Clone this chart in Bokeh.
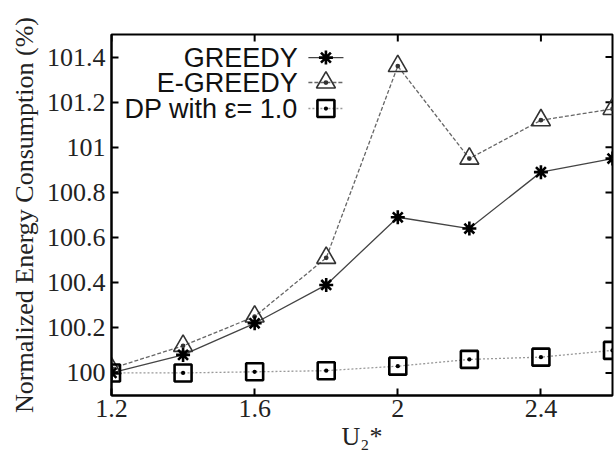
from bokeh.plotting import figure
from bokeh.models import FixedTicker, Range1d
from bokeh.core.properties import value
from bokeh.embed import file_html
from bokeh.resources import INLINE

# Load factor U2* on the x axis
u2 = [1.2, 1.4, 1.6, 1.8, 2.0, 2.2, 2.4, 2.6]

# Normalized energy consumption (%) per scheme
greedy = [100.00, 100.08, 100.22, 100.39, 100.69, 100.64, 100.89, 100.95]
e_greedy = [100.02, 100.12, 100.25, 100.51, 101.36, 100.95, 101.12, 101.17]
dp_eps = [100.00, 100.00, 100.005, 100.01, 100.03, 100.06, 100.07, 100.10]

series_names = ["GREEDY", "E-GREEDY", "DP with \u03b5= 1.0"]

x_ticks = [1.2, 1.6, 2.0, 2.4]
x_tick_labels = ["1.2", "1.6", "2", "2.4"]
y_ticks = [100.0, 100.2, 100.4, 100.6, 100.8, 101.0, 101.2, 101.4]
y_tick_labels = ["100", "100.2", "100.4", "100.6", "100.8", "101", "101.2", "101.4"]

X0, X1 = 1.2, 2.6
Y0, Y1 = 99.9, 101.5

SERIF = "Liberation Serif"
SANS = "Liberation Sans"

W, H = 616, 462
BL, BR, BT, BB = 111, 4, 34, 67
FRAME_W = W - BL - BR
FRAME_H = H - BT - BB
TICK_PX = 7

p = figure(width=W, height=H, output_backend="svg", toolbar_location=None,
           x_range=Range1d(X0, X1), y_range=Range1d(Y0, Y1),
           min_border_left=BL, min_border_right=BR, min_border_top=BT,
           min_border_bottom=BB, background_fill_color="white",
           border_fill_color="white")
p.grid.visible = False
p.outline_line_color = "black"
p.outline_line_width = 2

def style_axis(ax, ticks, labels):
    ax.ticker = FixedTicker(ticks=ticks)
    ax.major_label_overrides = {t: l for t, l in zip(ticks, labels)}
    ax.axis_line_color = "black"
    ax.axis_line_width = 2
    ax.major_tick_line_color = "black"
    ax.major_tick_line_width = 2
    ax.major_tick_in = TICK_PX
    ax.major_tick_out = 0
    ax.minor_tick_line_color = None
    ax.major_label_text_font = SERIF
    ax.major_label_text_font_size = "26px"
    ax.major_label_text_color = "#222222"

style_axis(p.xaxis[0], x_ticks, x_tick_labels)
style_axis(p.yaxis[0], y_ticks, y_tick_labels)
p.xaxis[0].major_label_standoff = 4
p.yaxis[0].major_label_standoff = 6

p.xaxis[0].axis_label = "U\u2082*"
p.xaxis[0].axis_label_text_font = SERIF
p.xaxis[0].axis_label_text_font_style = "normal"
p.xaxis[0].axis_label_text_font_size = "26px"
p.xaxis[0].axis_label_standoff = 2
p.xaxis[0].axis_label_text_color = "#222222"

p.yaxis[0].axis_label = "Normalized Energy Consumption (%)"
p.yaxis[0].axis_label_text_font = SERIF
p.yaxis[0].axis_label_text_font_style = "normal"
p.yaxis[0].axis_label_text_font_size = "26px"
p.yaxis[0].axis_label_standoff = 5
p.yaxis[0].axis_label_text_color = "#222222"

# mirrored inward tick marks on the top and right edges
dy_tick = (Y1 - Y0) / FRAME_H * TICK_PX
dx_tick = (X1 - X0) / FRAME_W * TICK_PX
p.segment(x0=x_ticks, y0=[Y1] * len(x_ticks), x1=x_ticks,
          y1=[Y1 - dy_tick] * len(x_ticks), line_color="black", line_width=2)
p.segment(x0=[X1] * len(y_ticks), y0=y_ticks, x1=[X1 - dx_tick] * len(y_ticks),
          y1=y_ticks, line_color="black", line_width=2)

# data lines and markers
p.line(u2, greedy, line_color="#444444", line_width=1.3)
p.line(u2, e_greedy, line_color="#666666", line_width=1.3, line_dash="4 2")
p.line(u2, dp_eps, line_color="#999999", line_width=1.3, line_dash="2 2")

p.scatter(u2, e_greedy, marker="triangle_dot", size=19, fill_color=None,
          line_color="#333333", line_width=1.6)
p.scatter(u2, greedy, marker="asterisk", size=14, line_color="black", line_width=2.6)
p.scatter(u2, dp_eps, marker="square_dot", size=17, fill_color=None,
          line_color="black", line_width=2.6)

# key in the upper-left corner: label on the left, sample on the right
def fx(f):
    return X0 + f * (X1 - X0)

def fy(f):
    return Y0 + f * (Y1 - Y0)

key_rows = [0.936, 0.867, 0.795]
text_x = fx(0.372)
seg = [fx(0.393), fx(0.463)]
mark_x = fx(0.428)
key_styles = [
    dict(line_color="#444444", line_dash="solid"),
    dict(line_color="#666666", line_dash="4 2"),
    dict(line_color="#999999", line_dash="2 2"),
]
for name, row, st in zip(series_names, key_rows, key_styles):
    yy = fy(row)
    p.text([text_x], [yy], text=[name], text_font=value(SANS), text_font_size="27px",
           text_align="right", text_baseline="middle", text_color="#111111")
    p.line(seg, [yy, yy], line_width=1.3, **st)

p.scatter([mark_x], [fy(key_rows[0])], marker="asterisk", size=14,
          line_color="black", line_width=2.6)
p.scatter([mark_x], [fy(key_rows[1])], marker="triangle_dot", size=19,
          fill_color=None, line_color="#333333", line_width=1.6)
p.scatter([mark_x], [fy(key_rows[2])], marker="square_dot", size=17,
          fill_color=None, line_color="black", line_width=2.6)

open("out.html", "w").write(file_html(p, INLINE))
